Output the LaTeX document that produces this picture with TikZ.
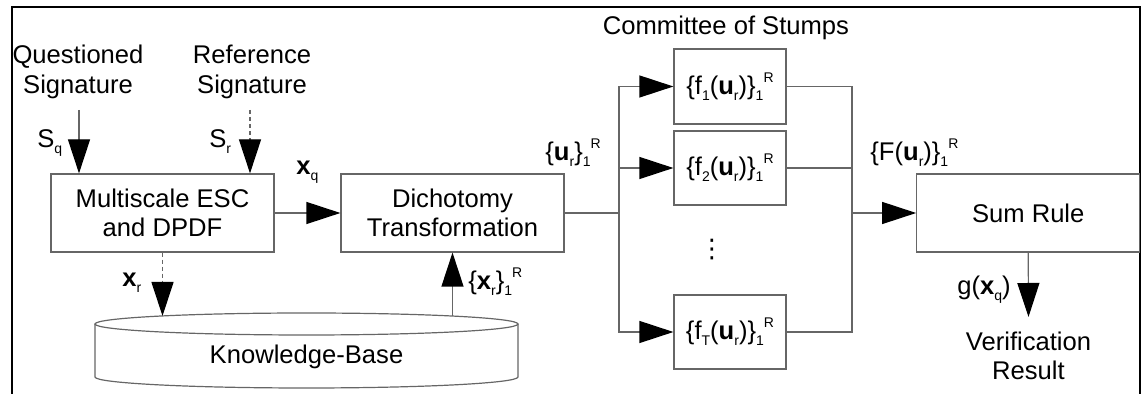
\documentclass[tikz,border=0pt]{standalone}
\usepackage{fontspec}
\setmainfont{Liberation Sans}
\newfontfamily\symfont{DejaVu Sans}
\usetikzlibrary{arrows.meta}
% small lowered / raised indices in the text font
\newcommand\lo[1]{\raisebox{-3pt}{\fontsize{7}{7}\selectfont #1}}
\newcommand\hi[1]{\raisebox{6pt}{\fontsize{7}{7}\selectfont #1}}
\begin{document}
\begin{tikzpicture}[x=0.5pt,y=-0.5pt,
  line/.style={draw=black!60, line width=0.6pt},
  arr/.style={line, -{Triangle[length=17pt,width=11pt,color=black]}},
  dsh/.style={dash pattern=on 2pt off 1.5pt},
  txt/.style={font=\fontsize{12.8}{14.8}\selectfont},
  box/.style={line, txt, rectangle, inner sep=0pt, align=center},
  lbl/.style={txt, inner sep=0pt, align=center},
  frame/.style={draw=black, line width=1pt}]
\useasboundingbox (0,0) rectangle (1142,394);
% outer frame
\draw[frame] (12,394) -- (12,7.5) -- (1140,7.5) -- (1140,394);

% processing blocks
\node[box, minimum width=111.5pt, minimum height=39pt] (msc) at (162.5,213) {Multiscale ESC\\and DPDF};
\node[box, minimum width=111.5pt, minimum height=39pt] (dich) at (452.5,213) {Dichotomy\\Transformation};
\node[box, minimum width=56pt, minimum height=37.5pt] (s1) at (730,86.5) {\{f\lo{1}(\textbf{u}\lo{r})\}\lo{1}\hi{R}};
\node[box, minimum width=56pt, minimum height=37pt] (s2) at (730,168) {\{f\lo{2}(\textbf{u}\lo{r})\}\lo{1}\hi{R}};
\node[box, minimum width=56pt, minimum height=37pt] (s3) at (730,332) {\{f\lo{T}(\textbf{u}\lo{r})\}\lo{1}\hi{R}};
\node[box, minimum width=111.5pt, minimum height=39pt] (sum) at (1028.25,213) {Sum Rule};

% knowledge base cylinder
\draw[line] (306.5,324) ellipse [x radius=211.5, y radius=11];
\draw[line] (95,324) -- (95,377) arc[start angle=180, end angle=0, x radius=211.5, y radius=11] -- (518,324);
\node[lbl] (kb) at (306.5,357) {Knowledge-Base};
\coordinate (kbin) at (162.5,316);
\coordinate (kbout) at (452.5,316);

% inputs and outputs
\node[lbl] (qs) at (78,72) {Questioned\\Signature};
\node[lbl] (rs) at (252,72) {Reference\\Signature};
\node[lbl] (cmt) at (726,28) {Committee of Stumps};
\node[lbl] (vr) at (1028.5,356) {Verification\\Result};
\node[lbl] (dots) at (712,250) {\symfont ⋮};
\coordinate (qsin) at (79,110);
\coordinate (rsin) at (250,110);
\coordinate (vrin) at (1028.5,317);
\coordinate (br1) at (619,213);
\coordinate (br2) at (852,213);

% connectors
\draw[arr] (qsin) -- (qsin |- msc.north);
\draw[arr, dsh] (rsin) -- (rsin |- msc.north);
\draw[arr] (msc.east) -- (dich.west);
\draw[arr, dsh] (msc.south) -- (kbin);
\draw[arr] (kbout) -- (dich.south);
\draw[line] (dich.east) -- (br1);
\draw[arr] (br1) |- (s1.west);
\draw[arr] (br1) |- (s2.west);
\draw[arr] (br1) |- (s3.west);
\draw[line] (s1.east) -| (br2);
\draw[line] (s2.east) -| (br2);
\draw[line] (s3.east) -| (br2);
\draw[arr] (br2) -- (sum.west);
\draw[arr] (sum.south) -- (vrin);

% connector labels
\node[lbl, anchor=base west] (lsq) at (37,148) {S\lo{q}};
\node[lbl, anchor=base west] (lsr) at (209,148) {S\lo{r}};
\node[lbl, anchor=base west] (lxq) at (296,175) {\textbf{x}\lo{q}};
\node[lbl, anchor=base west] (lxr) at (122,287) {\textbf{x}\lo{r}};
\node[lbl, anchor=base west] (lxs) at (468,290) {\{\textbf{x}\lo{r}\}\lo{1}\hi{R}};
\node[lbl, anchor=base west] (lus) at (545,161) {\{\textbf{u}\lo{r}\}\lo{1}\hi{R}};
\node[lbl, anchor=base west] (lfs) at (870,161) {\{F(\textbf{u}\lo{r})\}\lo{1}\hi{R}};
\node[lbl, anchor=base west] (lg) at (957,295) {g(\textbf{x}\lo{q})};
\end{tikzpicture}
\end{document}
